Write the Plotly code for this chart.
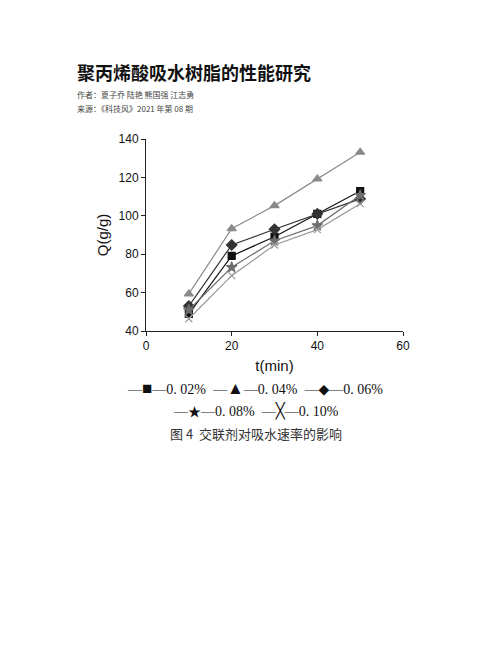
import plotly.graph_objects as go

# 交联剂用量对吸水速率的影响 (图 4)
t_min = [10, 20, 30, 40, 50]
q_002 = [48.9, 79.1, 89.1, 101.0, 112.9]
q_004 = [59.3, 93.3, 105.3, 119.2, 133.1]
q_006 = [53.0, 84.8, 93.0, 101.0, 108.8]
q_008 = [51.0, 73.2, 87.0, 94.9, 110.7]
q_010 = [46.4, 68.8, 84.8, 92.8, 106.3]

series_names = ["0.02%", "0.04%", "0.06%", "0.08%", "0.10%"]
x_ticks = [0, 20, 40, 60]
y_ticks = [40, 60, 80, 100, 120, 140]

# 页面 body 有 8px 默认边距, 所以画布整体左上移 8px
OFF = 8
W, H = 502 - OFF, 649 - OFF
L, R, T, B = 146 - OFF, 403 - OFF, 139 - OFF, 331 - OFF   # 绘图区像素边界


def px(x):
    return (x - OFF - L) / (R - L)


def py(y):
    return (B - (y - OFF)) / (B - T)


styles = [
    (q_002, "square", "#111111", 7),
    (q_004, "triangle-up", "#8a8a8a", 8),
    (q_006, "diamond", "#333333", 8),
    (q_008, "star", "#6e6e6e", 8),
    (q_010, "x-thin", "#9a9a9a", 7),
]

fig = go.Figure()
for (vals, sym, col, ms), name in zip(styles, series_names):
    fig.add_trace(go.Scatter(
        x=t_min, y=vals, name=name, mode="lines+markers",
        line=dict(color=col, width=1.2),
        marker=dict(symbol=sym, size=ms, color=col,
                    line=dict(color=col, width=1.2)),
        showlegend=False,
    ))

axis_font = dict(family="Liberation Sans, Arial", size=12, color="#111111")
fig.update_xaxes(range=[0, 60], tickvals=x_ticks, showline=True, linecolor="#222222",
                 linewidth=1, ticks="outside", ticklen=4, tickcolor="#222222",
                 showgrid=False, zeroline=False, tickfont=axis_font,
                 title=dict(text="t(min)", font=dict(family="Liberation Sans, Arial", size=15, color="#111111"),
                            standoff=8))
fig.update_yaxes(range=[40, 140], tickvals=y_ticks, showline=True, linecolor="#222222",
                 linewidth=1, ticks="outside", ticklen=4, tickcolor="#222222",
                 showgrid=False, zeroline=False, tickfont=axis_font,
                 title=dict(text="Q(g/g)", font=dict(family="Liberation Sans, Arial", size=15, color="#111111"),
                            standoff=6))

serif = "Liberation Serif, DejaVu Serif, Noto Sans CJK SC"
cjk = "Noto Sans CJK SC"


def sym(s, size):
    return '<span style="font-size:%dpx">%s</span>' % (size, s)


row1 = ("—" + sym("■", 17) + "—0. 02%  —" + sym("▲", 17) + "—0. 04%  —"
        + sym("◆", 14) + "—0. 06%")
row2 = "—" + sym("★", 13) + "—0. 08%  —" + sym("╳", 15) + "—0. 10%"

notes = [
    (75, 72, "<b>聚丙烯酸吸水树脂的性能研究</b>", 18, cjk, "left", "#111111"),
    (75, 94, "作者：夏子乔 陆艳 熊国强 江志勇", 8, cjk, "left", "#444444"),
    (75, 108, "来源：《科技风》2021 年第 08 期", 8, cjk, "left", "#444444"),
    (255, 388, row1, 14, serif, "center", "#111111"),
    (256, 411, row2, 14, serif, "center", "#111111"),
    (256, 433, "图 4  交联剂对吸水速率的影响", 13, cjk, "center", "#333333"),
]
for x, y, txt, size, fam, anchor, col in notes:
    fig.add_annotation(x=px(x), y=py(y), xref="paper", yref="paper", text=txt,
                       showarrow=False, xanchor=anchor, yanchor="middle",
                       font=dict(family=fam, size=size, color=col))

fig.update_layout(
    width=W, height=H,
    margin=dict(l=L, r=W - R, t=T, b=H - B),
    paper_bgcolor="white", plot_bgcolor="white",
)

fig.write_html("out.html")
